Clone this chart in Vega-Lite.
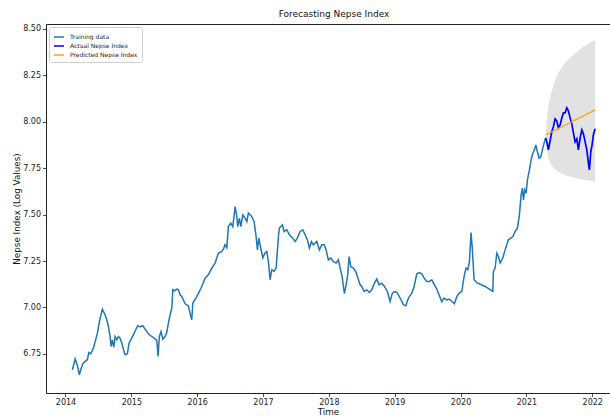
{
  "$schema": "https://vega.github.io/schema/vega-lite/v6.json",
  "width": 564,
  "height": 369,
  "autosize": {"type": "none"},
  "padding": {"left": 46, "top": 24, "right": 0, "bottom": 25},
  "background": "white",
  "config": {
    "font": "DejaVu Sans",
    "view": {"stroke": "#222", "strokeWidth": 1},
    "axis": {"grid": false, "domain": false, "tickColor": "#222", "tickSize": 3.5, "tickWidth": 0.8, "labelColor": "#222", "labelFontSize": 8, "labelPadding": 2, "titleColor": "#111", "titleFontSize": 8.8, "titleFontWeight": "normal"}
  },
  "title": {"text": "Forecasting Nepse Index", "fontSize": 9, "fontWeight": "normal", "color": "#111", "offset": 5, "dx": 6},
  "datasets": {
    "train": [
      {"t":2014.105,"v":6.665},{"t":2014.146,"v":6.723},{"t":2014.181,"v":6.687},{"t":2014.211,"v":6.638},{"t":2014.232,"v":6.665},{"t":2014.263,"v":6.697},{"t":2014.298,"v":6.710},{"t":2014.333,"v":6.719},{"t":2014.354,"v":6.758},{"t":2014.384,"v":6.751},{"t":2014.424,"v":6.782},{"t":2014.465,"v":6.835},{"t":2014.485,"v":6.862},{"t":2014.515,"v":6.925},{"t":2014.560,"v":6.991},{"t":2014.601,"v":6.961},{"t":2014.627,"v":6.934},{"t":2014.652,"v":6.898},{"t":2014.677,"v":6.844},{"t":2014.693,"v":6.790},{"t":2014.712,"v":6.826},{"t":2014.734,"v":6.787},{"t":2014.753,"v":6.844},{"t":2014.779,"v":6.826},{"t":2014.803,"v":6.844},{"t":2014.829,"v":6.835},{"t":2014.855,"v":6.809},{"t":2014.879,"v":6.776},{"t":2014.905,"v":6.746},{"t":2014.940,"v":6.751},{"t":2014.966,"v":6.809},{"t":2014.992,"v":6.826},{"t":2015.031,"v":6.853},{"t":2015.072,"v":6.884},{"t":2015.098,"v":6.902},{"t":2015.133,"v":6.895},{"t":2015.174,"v":6.902},{"t":2015.209,"v":6.884},{"t":2015.244,"v":6.866},{"t":2015.274,"v":6.853},{"t":2015.311,"v":6.844},{"t":2015.346,"v":6.835},{"t":2015.387,"v":6.823},{"t":2015.406,"v":6.737},{"t":2015.426,"v":6.844},{"t":2015.452,"v":6.871},{"t":2015.478,"v":6.830},{"t":2015.513,"v":6.844},{"t":2015.539,"v":6.866},{"t":2015.563,"v":6.916},{"t":2015.589,"v":6.961},{"t":2015.615,"v":6.997},{"t":2015.630,"v":7.095},{"t":2015.657,"v":7.090},{"t":2015.690,"v":7.099},{"t":2015.715,"v":7.095},{"t":2015.741,"v":7.068},{"t":2015.766,"v":7.059},{"t":2015.817,"v":7.020},{"t":2015.867,"v":7.008},{"t":2015.903,"v":6.952},{"t":2015.918,"v":6.934},{"t":2015.934,"v":7.024},{"t":2015.994,"v":7.059},{"t":2016.070,"v":7.113},{"t":2016.120,"v":7.158},{"t":2016.170,"v":7.176},{"t":2016.222,"v":7.212},{"t":2016.272,"v":7.239},{"t":2016.322,"v":7.292},{"t":2016.374,"v":7.301},{"t":2016.401,"v":7.316},{"t":2016.424,"v":7.337},{"t":2016.450,"v":7.321},{"t":2016.474,"v":7.435},{"t":2016.511,"v":7.454},{"t":2016.541,"v":7.435},{"t":2016.576,"v":7.543},{"t":2016.602,"v":7.489},{"t":2016.617,"v":7.435},{"t":2016.641,"v":7.481},{"t":2016.663,"v":7.435},{"t":2016.693,"v":7.498},{"t":2016.728,"v":7.481},{"t":2016.754,"v":7.462},{"t":2016.778,"v":7.508},{"t":2016.830,"v":7.489},{"t":2016.865,"v":7.462},{"t":2016.895,"v":7.382},{"t":2016.915,"v":7.310},{"t":2016.936,"v":7.373},{"t":2016.966,"v":7.319},{"t":2016.997,"v":7.266},{"t":2017.027,"v":7.292},{"t":2017.057,"v":7.301},{"t":2017.082,"v":7.247},{"t":2017.108,"v":7.149},{"t":2017.133,"v":7.203},{"t":2017.168,"v":7.194},{"t":2017.199,"v":7.212},{"t":2017.234,"v":7.382},{"t":2017.249,"v":7.427},{"t":2017.270,"v":7.435},{"t":2017.294,"v":7.445},{"t":2017.320,"v":7.409},{"t":2017.361,"v":7.418},{"t":2017.401,"v":7.391},{"t":2017.452,"v":7.373},{"t":2017.487,"v":7.355},{"t":2017.522,"v":7.373},{"t":2017.563,"v":7.409},{"t":2017.604,"v":7.418},{"t":2017.639,"v":7.391},{"t":2017.674,"v":7.364},{"t":2017.704,"v":7.319},{"t":2017.735,"v":7.355},{"t":2017.765,"v":7.337},{"t":2017.817,"v":7.355},{"t":2017.856,"v":7.310},{"t":2017.893,"v":7.337},{"t":2017.928,"v":7.337},{"t":2017.958,"v":7.310},{"t":2017.993,"v":7.256},{"t":2018.029,"v":7.266},{"t":2018.069,"v":7.247},{"t":2018.110,"v":7.239},{"t":2018.145,"v":7.256},{"t":2018.171,"v":7.213},{"t":2018.201,"v":7.167},{"t":2018.236,"v":7.074},{"t":2018.262,"v":7.122},{"t":2018.288,"v":7.181},{"t":2018.307,"v":7.274},{"t":2018.333,"v":7.220},{"t":2018.373,"v":7.212},{"t":2018.414,"v":7.189},{"t":2018.449,"v":7.149},{"t":2018.474,"v":7.122},{"t":2018.500,"v":7.113},{"t":2018.535,"v":7.086},{"t":2018.576,"v":7.095},{"t":2018.616,"v":7.081},{"t":2018.652,"v":7.095},{"t":2018.692,"v":7.131},{"t":2018.728,"v":7.153},{"t":2018.763,"v":7.122},{"t":2018.804,"v":7.131},{"t":2018.844,"v":7.113},{"t":2018.889,"v":7.086},{"t":2018.930,"v":7.032},{"t":2018.965,"v":7.077},{"t":2019.006,"v":7.086},{"t":2019.041,"v":7.077},{"t":2019.082,"v":7.051},{"t":2019.132,"v":7.015},{"t":2019.169,"v":7.009},{"t":2019.199,"v":7.041},{"t":2019.223,"v":7.059},{"t":2019.260,"v":7.077},{"t":2019.295,"v":7.113},{"t":2019.336,"v":7.181},{"t":2019.375,"v":7.188},{"t":2019.412,"v":7.181},{"t":2019.447,"v":7.158},{"t":2019.488,"v":7.140},{"t":2019.527,"v":7.140},{"t":2019.564,"v":7.149},{"t":2019.603,"v":7.122},{"t":2019.639,"v":7.099},{"t":2019.674,"v":7.068},{"t":2019.715,"v":7.032},{"t":2019.750,"v":7.051},{"t":2019.791,"v":7.041},{"t":2019.831,"v":7.045},{"t":2019.867,"v":7.032},{"t":2019.907,"v":7.020},{"t":2019.943,"v":7.059},{"t":2019.978,"v":7.077},{"t":2020.019,"v":7.086},{"t":2020.054,"v":7.167},{"t":2020.084,"v":7.212},{"t":2020.110,"v":7.203},{"t":2020.135,"v":7.247},{"t":2020.145,"v":7.310},{"t":2020.160,"v":7.403},{"t":2020.180,"v":7.310},{"t":2020.206,"v":7.149},{"t":2020.247,"v":7.134},{"t":2020.373,"v":7.113},{"t":2020.490,"v":7.086},{"t":2020.499,"v":7.194},{"t":2020.525,"v":7.212},{"t":2020.551,"v":7.292},{"t":2020.575,"v":7.274},{"t":2020.601,"v":7.239},{"t":2020.642,"v":7.266},{"t":2020.677,"v":7.310},{"t":2020.703,"v":7.337},{"t":2020.727,"v":7.364},{"t":2020.763,"v":7.373},{"t":2020.794,"v":7.382},{"t":2020.829,"v":7.409},{"t":2020.864,"v":7.427},{"t":2020.894,"v":7.498},{"t":2020.920,"v":7.606},{"t":2020.940,"v":7.642},{"t":2020.955,"v":7.579},{"t":2020.976,"v":7.633},{"t":2020.996,"v":7.615},{"t":2021.016,"v":7.687},{"t":2021.046,"v":7.740},{"t":2021.072,"v":7.794},{"t":2021.098,"v":7.830},{"t":2021.122,"v":7.848},{"t":2021.143,"v":7.875},{"t":2021.167,"v":7.839},{"t":2021.193,"v":7.803},{"t":2021.219,"v":7.812},{"t":2021.243,"v":7.848},{"t":2021.269,"v":7.884},{"t":2021.292,"v":7.912}
    ],
    "actual": [
      {"t":2021.292,"v":7.912},{"t":2021.310,"v":7.891},{"t":2021.334,"v":7.848},{"t":2021.360,"v":7.896},{"t":2021.386,"v":7.945},{"t":2021.410,"v":7.972},{"t":2021.436,"v":8.015},{"t":2021.462,"v":8.004},{"t":2021.486,"v":7.966},{"t":2021.512,"v":7.982},{"t":2021.538,"v":8.020},{"t":2021.562,"v":8.047},{"t":2021.588,"v":8.047},{"t":2021.614,"v":8.074},{"t":2021.638,"v":8.058},{"t":2021.664,"v":8.020},{"t":2021.690,"v":7.988},{"t":2021.714,"v":7.939},{"t":2021.740,"v":7.891},{"t":2021.766,"v":7.907},{"t":2021.790,"v":7.848},{"t":2021.816,"v":7.912},{"t":2021.842,"v":7.955},{"t":2021.866,"v":7.934},{"t":2021.892,"v":7.891},{"t":2021.918,"v":7.848},{"t":2021.942,"v":7.778},{"t":2021.957,"v":7.740},{"t":2021.978,"v":7.837},{"t":2021.998,"v":7.875},{"t":2022.018,"v":7.929},{"t":2022.044,"v":7.961}
    ],
    "pred": [
      {"t":2021.292,"v":7.928},{"t":2021.668,"v":7.995},{"t":2022.044,"v":8.063}
    ],
    "band": [
      {"t":2021.292,"lo":7.905,"hi":7.925},{"t":2021.305,"lo":7.860,"hi":7.985},{"t":2021.320,"lo":7.828,"hi":8.040},{"t":2021.345,"lo":7.794,"hi":8.101},{"t":2021.391,"lo":7.762,"hi":8.170},{"t":2021.451,"lo":7.740,"hi":8.235},{"t":2021.543,"lo":7.719,"hi":8.294},{"t":2021.664,"lo":7.703,"hi":8.343},{"t":2021.786,"lo":7.692,"hi":8.380},{"t":2021.907,"lo":7.684,"hi":8.412},{"t":2022.044,"lo":7.678,"hi":8.439}
    ]
  },
  "encoding": {
    "x": {"field": "t", "type": "quantitative", "title": "Time",
      "scale": {"domain": [2013.704, 2022.27], "nice": false, "zero": false},
      "axis": {"values": [2014, 2015, 2016, 2017, 2018, 2019, 2020, 2021, 2022], "format": "d", "titlePadding": 1}}
  },
  "layer": [
    {
      "data": {"name": "band"},
      "mark": {"type": "area", "color": "#e2e2e2", "opacity": 1, "interpolate": "monotone"},
      "encoding": {
        "y": {"field": "lo", "type": "quantitative"},
        "y2": {"field": "hi"}
      }
    },
    {
      "data": {"name": "train"},
      "mark": {"type": "line", "strokeWidth": 1.5},
      "encoding": {
        "y": {"field": "v", "type": "quantitative", "title": "Nepse Index (Log Values)",
          "scale": {"domain": [6.54, 8.525], "nice": false, "zero": false},
          "axis": {"values": [6.75, 7.0, 7.25, 7.5, 7.75, 8.0, 8.25, 8.5], "format": ".2f", "titlePadding": 1}},
        "color": {"datum": "Training data", "type": "nominal",
          "scale": {"domain": ["Training data", "Actual Nepse Index", "Predicted Nepse Index"], "range": ["#1f77b4", "#0000ff", "#ffa500"]},
          "legend": {"title": null, "orient": "top-left", "offset": 3, "padding": 4, "fillColor": "white", "strokeColor": "#d0d0d0", "cornerRadius": 2, "symbolType": "stroke", "symbolSize": 100, "symbolStrokeWidth": 1.5, "labelFontSize": 6, "labelColor": "#222", "rowPadding": -1, "labelOffset": 5}}
      }
    },
    {
      "data": {"name": "actual"},
      "mark": {"type": "line", "strokeWidth": 1.7},
      "encoding": {
        "y": {"field": "v", "type": "quantitative"},
        "color": {"datum": "Actual Nepse Index", "type": "nominal"}
      }
    },
    {
      "data": {"name": "pred"},
      "mark": {"type": "line", "strokeWidth": 1.3},
      "encoding": {
        "y": {"field": "v", "type": "quantitative"},
        "color": {"datum": "Predicted Nepse Index", "type": "nominal"}
      }
    }
  ]
}
